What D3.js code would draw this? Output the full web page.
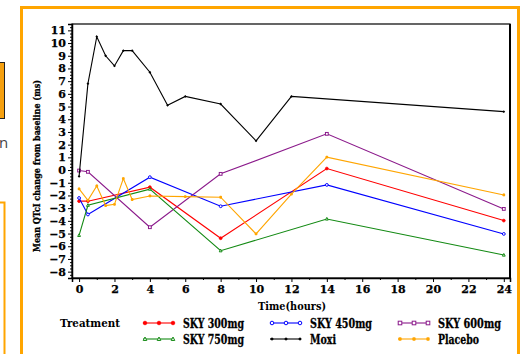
<!DOCTYPE html>
<html>
<head>
<meta charset="utf-8">
<script src="https://cdn.jsdelivr.net/npm/d3@7"></script>
<style>
  html, body { margin: 0; padding: 0; background: #fff; }
  svg { display: block; }
  text { font-family: "DejaVu Serif", "Liberation Serif", serif; font-weight: bold; fill: #000; }
</style>
</head>
<body>
<script>
// Mean QTcI change from baseline by time after dose, per treatment group
const timesDose = [0, 0.5, 4, 8, 14, 24];
const sky300 = [-2.45, -2.45, -1.35, -5.37, 0.12, -3.98];
const sky450 = [-2.2, -3.5, -0.56, -2.85, -1.17, -5.03];
const sky600 = [-0.04, -0.14, -4.5, -0.3, 2.85, -3.06];
const sky750 = [-5.14, -2.77, -1.5, -6.35, -3.85, -6.69];

const timesMoxi = [0, 0.5, 1, 1.5, 2, 2.5, 3, 4, 5, 6, 8, 10, 12, 24];
const moxi = [-0.5, 6.8, 10.5, 9.0, 8.2, 9.4, 9.4, 7.7, 5.1, 5.8, 5.2, 2.3, 5.8, 4.6];

const timesPlacebo = [0, 0.5, 1, 1.5, 2, 2.5, 3, 4, 6, 8, 10, 12, 14, 24];
const placebo = [-1.48, -2.38, -1.25, -2.8, -2.7, -0.67, -2.32, -2.04, -2.09, -2.14, -5.03, -1.9, 1.02, -1.96];

const xTicks = d3.range(0, 25, 2);
const yTicks = d3.range(-8, 12, 1);

const series = [
  { name: "SKY 300mg", t: timesDose, v: sky300, color: "#ff0000", marker: "circleFill", w: 61 },
  { name: "SKY 450mg", t: timesDose, v: sky450, color: "#0000ff", marker: "circle", w: 62 },
  { name: "SKY 600mg", t: timesDose, v: sky600, color: "#8b1a8b", marker: "square", w: 63 },
  { name: "SKY 750mg", t: timesDose, v: sky750, color: "#138a13", marker: "triangle", w: 61 },
  { name: "Moxi", t: timesMoxi, v: moxi, color: "#000000", marker: "diamond", w: 26 },
  { name: "Placebo", t: timesPlacebo, v: placebo, color: "#ffa500", marker: "star", w: 41 }
];

const W = 530, H = 354;
const svg = d3.select("body").append("svg").attr("width", W).attr("height", H);

// surrounding page decorations
svg.append("rect").attr("x", -6).attr("y", 62.5).attr("width", 10.5).attr("height", 56)
  .attr("fill", "#f5a00f").attr("stroke", "#222").attr("stroke-width", 1);
svg.append("text").attr("x", -1).attr("y", 148)
  .style("font-family", "'Open Sans', sans-serif").style("font-weight", "normal")
  .style("font-size", "15px").style("fill", "#444").text("n");
svg.append("path").attr("d", "M -2 202.5 H 4.5 V 360")
  .attr("fill", "none").attr("stroke", "#ffa500").attr("stroke-width", 2);

// orange outer frame
svg.append("rect").attr("x", 21.5).attr("y", 7.5).attr("width", 497).attr("height", 360)
  .attr("fill", "#fff").attr("stroke", "#ffa500").attr("stroke-width", 3);

const pLeft = 72, pRight = 510, pTop = 24, pBottom = 278;
const x = d3.scaleLinear().domain([-0.4, 24.35]).range([pLeft, pRight]);
const y = d3.scaleLinear().domain([-8.5, 11.5]).range([pBottom, pTop]);

// plot frame
svg.append("rect").attr("x", pLeft).attr("y", pTop).attr("width", pRight - pLeft).attr("height", pBottom - pTop)
  .attr("fill", "none").attr("stroke", "#000").attr("stroke-width", 1.2);
svg.append("line").attr("x1", pRight).attr("x2", pRight).attr("y1", pTop).attr("y2", pBottom)
  .attr("stroke", "#000").attr("stroke-width", 2);

// axes
const fmt = d => d < 0 ? "\u2212" + Math.abs(d) : String(d);
const yAxis = svg.append("g").attr("transform", `translate(${pLeft},0)`)
  .call(d3.axisLeft(y).tickValues(yTicks).tickFormat(fmt).tickSize(4).tickPadding(2));
svg.append("g").attr("transform", `translate(${pLeft},0)`)
  .call(d3.axisLeft(y).tickValues(d3.range(-8.5, 11.51, 0.25).filter(v => Math.abs(v - Math.round(v)) > 1e-6)).tickFormat("").tickSize(2))
  .call(g => g.select(".domain").remove());
const xAxis = svg.append("g").attr("transform", `translate(0,${pBottom})`)
  .call(d3.axisBottom(x).tickValues(xTicks).tickFormat(fmt).tickSize(4).tickPadding(3));
svg.append("g").attr("transform", `translate(0,${pBottom})`)
  .call(d3.axisBottom(x).tickValues(d3.range(1, 25, 2)).tickFormat("").tickSize(2))
  .call(g => g.select(".domain").remove());

[yAxis, xAxis].forEach(g => {
  g.select(".domain").attr("stroke-width", 1.5);
  g.selectAll("text").style("font-size", "11px").style("font-family", "'DejaVu Serif', serif")
    .style("font-weight", "bold").attr("stroke", "#000").attr("stroke-width", 0.25);
});

// axis titles
svg.append("text").attr("transform", "translate(40,166) rotate(-90)")
  .attr("text-anchor", "middle").attr("textLength", 172).attr("lengthAdjust", "spacingAndGlyphs")
  .attr("stroke", "#000").attr("stroke-width", 0.3)
  .style("font-size", "10px").text("Mean QTcI change from baseline (ms)");
svg.append("text").attr("x", 258).attr("y", 310)
  .attr("textLength", 68).attr("lengthAdjust", "spacingAndGlyphs")
  .style("font-size", "11px").text("Time(hours)");

// marker shapes
function drawMarker(g, type, cx, cy, color, s) {
  const r = s;
  switch (type) {
    case "circleFill":
      g.append("circle").attr("cx", cx).attr("cy", cy).attr("r", r).attr("fill", color).attr("stroke", color).attr("stroke-width", 0.8); break;
    case "circle":
      g.append("circle").attr("cx", cx).attr("cy", cy).attr("r", r).attr("fill", "#fff").attr("stroke", color).attr("stroke-width", 1); break;
    case "square":
      g.append("rect").attr("x", cx - r).attr("y", cy - r).attr("width", 2 * r).attr("height", 2 * r).attr("fill", "#fff").attr("stroke", color).attr("stroke-width", 1); break;
    case "triangle":
      g.append("path").attr("d", `M${cx},${cy - r * 1.1} L${cx + r},${cy + r * 0.8} L${cx - r},${cy + r * 0.8} Z`).attr("fill", "#fff").attr("stroke", color).attr("stroke-width", 1); break;
    case "diamond":
      g.append("path").attr("d", `M${cx},${cy - r} L${cx + r},${cy} L${cx},${cy + r} L${cx - r},${cy} Z`).attr("fill", color); break;
    case "star":
      g.append("path").attr("d", `M${cx - r},${cy} H${cx + r} M${cx},${cy - r} V${cy + r} M${cx - r * 0.75},${cy - r * 0.75} L${cx + r * 0.75},${cy + r * 0.75} M${cx - r * 0.75},${cy + r * 0.75} L${cx + r * 0.75},${cy - r * 0.75}`)
        .attr("stroke", color).attr("stroke-width", 1.1).attr("fill", "none"); break;
  }
}

// series lines and points
const line = d3.line().x(d => x(d[0])).y(d => y(d[1]));
const plot = svg.append("g");
series.forEach(s => {
  const pts = s.t.map((t, i) => [t, s.v[i]]);
  plot.append("path").attr("d", line(pts)).attr("fill", "none").attr("stroke", s.color).attr("stroke-width", 1.1);
  pts.forEach(p => drawMarker(plot, s.marker, x(p[0]), y(p[1]), s.color, 1.4));
});

// legend
svg.append("text").attr("x", 60).attr("y", 327)
  .attr("textLength", 60).attr("lengthAdjust", "spacingAndGlyphs")
  .style("font-size", "11px").text("Treatment");
const legCols = [143, 270, 398];
const legRows = [323, 339];
const lg = svg.append("g");
series.forEach((s, i) => {
  const cx = legCols[i % 3], cy = legRows[Math.floor(i / 3)];
  lg.append("line").attr("x1", cx).attr("x2", cx + 31).attr("y1", cy).attr("y2", cy)
    .attr("stroke", s.color).attr("stroke-width", 1.1);
  [cx + 2, cx + 16, cx + 30].forEach(mx => drawMarker(lg, s.marker, mx, cy, s.color, 1.8));
  lg.append("text").attr("x", cx + 40).attr("y", cy + 4.5)
    .attr("textLength", s.w).attr("lengthAdjust", "spacingAndGlyphs")
    .attr("stroke", "#000").attr("stroke-width", 0.3)
    .style("font-size", "12px").text(s.name);
});
</script>
</body>
</html>
